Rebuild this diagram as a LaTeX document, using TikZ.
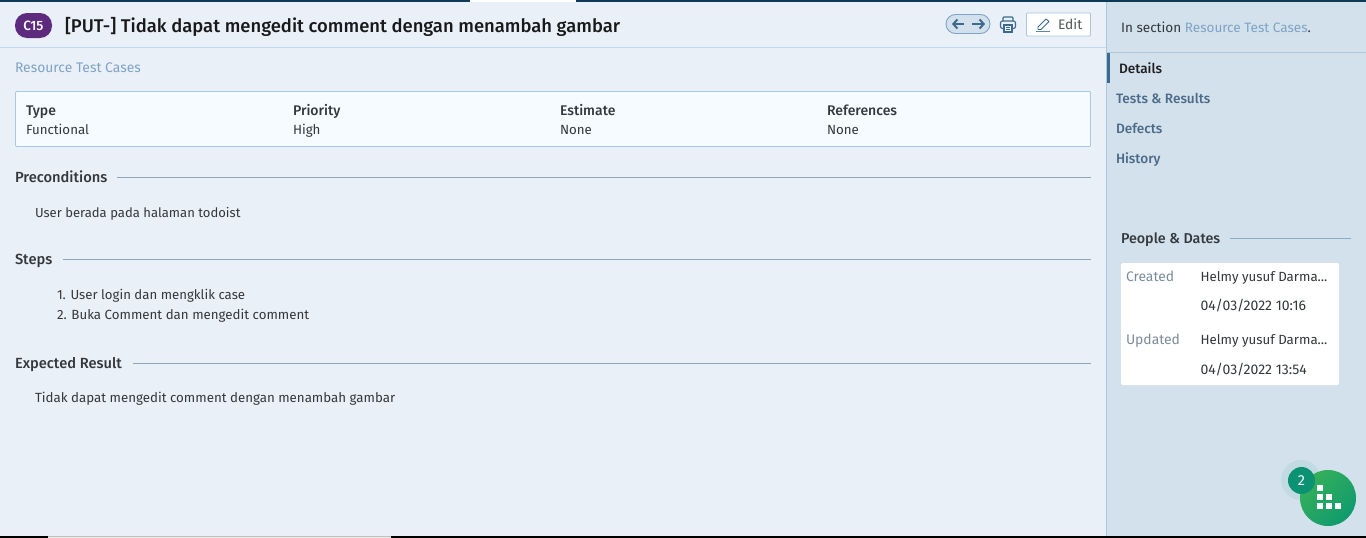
\documentclass[tikz,border=0pt]{standalone}
\usetikzlibrary{arrows.meta}
\usepackage{fontspec}
\setmainfont{Fira Sans}
\newfontfamily\semi{Fira Sans Medium}
\definecolor{mainbg}{HTML}{E9F0F8}
\definecolor{sidebg}{HTML}{D2E1EC}
\definecolor{edge}{HTML}{A9C8E0}
\definecolor{ink}{HTML}{33383C}
\definecolor{link}{HTML}{7FA3C7}
\definecolor{navy}{HTML}{0F3A57}
\definecolor{steel}{HTML}{3D6A8E}
\definecolor{navtxt}{HTML}{4A6A88}
\definecolor{rulec}{HTML}{8FA6BA}
\definecolor{boxbg}{HTML}{F6FBFF}
\definecolor{purp}{HTML}{5E2A7E}
\definecolor{teal1}{HTML}{0B9272}
\definecolor{grnA}{HTML}{36B05A}
\definecolor{grnB}{HTML}{0F9A6E}
\definecolor{muted}{HTML}{7C8C9A}
\newcommand{\fs}[1]{\fontsize{#1}{#1}\selectfont}
\tikzset{
  txt/.style={anchor=base west,inner sep=0pt,outer sep=0pt,font=\fs{13.3},text=ink},
  hd/.style={txt,font=\semi\fs{14}},
  sechd/.style={txt,font=\semi\fs{14.7}},
  nav/.style={txt,text=navtxt,font=\semi\fs{13.6}},
  rule/.style={draw=rulec,line width=.8pt},
  tip/.style={steel,line width=2pt,-{Straight Barb[length=4pt,width=9pt,line width=2pt]}}
}
\begin{document}
\begin{tikzpicture}[x=1pt,y=-1pt]
\useasboundingbox (0,0) rectangle (1366,538);
\fill[mainbg] (0,0) rectangle (1366,538);
\fill[sidebg] (1107,0) rectangle (1366,538);
\draw[edge,line width=1pt] (1106.5,0) -- (1106.5,536);
% top and bottom strips
\fill[navy] (0,0) rectangle (470,2);
\fill[white] (470,0) rectangle (576,2);
\fill[navy] (576,0) rectangle (1366,2);
\fill[black] (0,536) rectangle (48,538);
\fill[white!93!black] (48,536) rectangle (391,538);
\draw[black!25,line width=.6pt] (48,536.3) -- (391,536.3);
\fill[black] (391,536) rectangle (1366,538);
% header
\draw[edge!60!mainbg,line width=1pt] (0,47.5) -- (1106,47.5);
\draw[edge,line width=1pt] (1107,52.5) -- (1366,52.5);
\node[fill=purp,rounded corners=12pt,minimum width=37pt,minimum height=25pt,inner sep=0pt,text=white,font=\semi\fs{13.5}] (badge) at (33.5,25.5) {C15};
\node[txt,font=\semi\fs{18.43},text=black!90] (title) at (65,32) {[PUT-] Tidak dapat mengedit comment dengan menambah gambar};
% nav arrows
\node[draw=link,fill=sidebg,line width=.9pt,rounded corners=9.5pt,minimum width=44pt,minimum height=19pt,inner sep=0pt] (pager) at (968,24) {};
\draw[tip] (964,24) -- (952,24);
\draw[tip] (972,24) -- (985,24);
% printer
\draw[steel,line width=1.1pt,rounded corners=1pt] (1003,21) -- (1003,17) -- (1013,17) -- (1013,21);
\draw[steel,line width=1.1pt,rounded corners=2pt] (1004,28.5) -- (1000.5,28.5) -- (1000.5,21) -- (1015.5,21) -- (1015.5,28.5) -- (1012,28.5);
\draw[steel,line width=1.1pt] (1004,25) rectangle (1012,32);
\draw[steel,line width=.8pt] (1006,27.5) -- (1010,27.5) (1006,29.8) -- (1010,29.8);
% edit
\node[draw=edge,fill=white,line width=.9pt,rounded corners=1pt,minimum width=64pt,minimum height=23pt,inner sep=0pt] (editbtn) at (1058.5,24.5) {};
\draw[steel,line width=.9pt,line join=round] (1038,27) -- (1046,19) -- (1049,21.5) -- (1041,29.5) -- (1038,29.5) -- cycle;
\draw[steel!70!edge,line width=1.2pt] (1036,31.5) -- (1050,31.5);
\node[txt,text=ink!85,font=\fs{13.8}] (edit) at (1058,29) {Edit};
% breadcrumb
\node[txt,text=link,font=\fs{13.9}] (crumb) at (15,72) {Resource Test Cases};
% info box
\node[draw=edge,fill=boxbg,line width=.9pt,rounded corners=1pt,minimum width=1075pt,minimum height=55pt,inner sep=0pt] (info) at (553,119) {};
\node[hd] (h1) at (26,115) {Type};
\node[txt] (v1) at (26,134) {Functional};
\node[hd] (h2) at (293,115) {Priority};
\node[txt] (v2) at (293,134) {High};
\node[hd] (h3) at (560,115) {Estimate};
\node[txt] (v3) at (560,134) {None};
\node[hd] (h4) at (827,115) {References};
\node[txt] (v4) at (827,134) {None};
% sections
\node[sechd] (s1) at (15,182) {Preconditions};
\draw[rule] (117,177.5) -- (1091,177.5);
\node[txt,font=\fs{13.07}] (t1) at (35,217) {User berada pada halaman todoist};
\node[sechd] (s2) at (15,264) {Steps};
\draw[rule] (63,259.5) -- (1091,259.5);
\node[txt,font=\fs{13.2}] (t2) at (57,299) {1. User login dan mengklik case};
\node[txt] (t3) at (57,319) {2. Buka Comment dan mengedit comment};
\node[sechd] (s3) at (15,368) {Expected Result};
\draw[rule] (133,363.5) -- (1091,363.5);
\node[txt] (t4) at (35,402) {Tidak dapat mengedit comment dengan menambah gambar};
% sidebar
\node[txt,font=\fs{13.55}] (ins) at (1121,32) {In section \textcolor{link}{Resource Test Cases}\textcolor{ink}{.}};
\fill[steel] (1107,53) rectangle (1110,83);
\node[txt,font=\semi\fs{13.6},text=black!88] (d) at (1119,73) {Details};
\node[nav] (n2) at (1116,103) {Tests \& Results};
\node[nav] (n3) at (1116,133) {Defects};
\node[nav] (n4) at (1116,163) {History};
\node[txt,font=\semi\fs{14.3}] (pd) at (1121,243) {People \& Dates};
\draw[edge!70!steel,line width=.8pt] (1230,238.5) -- (1351,238.5);
\node[fill=white,rounded corners=2pt,minimum width=218pt,minimum height=122pt,inner sep=0pt] (card) at (1230,324) {};
\node[txt,text=muted,font=\fs{13.9}] (c1) at (1126,281) {Created};
\node[txt] (c2) at (1200.5,281) {Helmy yusuf Darma...};
\node[txt,font=\fs{14}] (c3) at (1200.5,310) {04/03/2022 10:16};
\node[txt,text=muted,font=\fs{13.9}] (c4) at (1126,344) {Updated};
\node[txt] (c5) at (1200.5,344) {Helmy yusuf Darma...};
\node[txt,font=\fs{14}] (c6) at (1200.5,374) {04/03/2022 13:54};
% floating button
\fill[teal1!8!sidebg] (1301,480) circle (20);
\shade[left color=grnA,right color=grnB,shading angle=45] (1328,498) circle (28);
\node[circle,fill=teal1,minimum size=27pt,inner sep=0pt,text=white,font=\fs{14.5}] (cnt) at (1301.5,480.5) {2};
\foreach \x/\y in {1320/488,1320/497,1329/497,1320/506,1329/506,1338/506}
  \fill[white] (\x-3,\y-3) rectangle (\x+3,\y+3);
\end{tikzpicture}
\end{document}
